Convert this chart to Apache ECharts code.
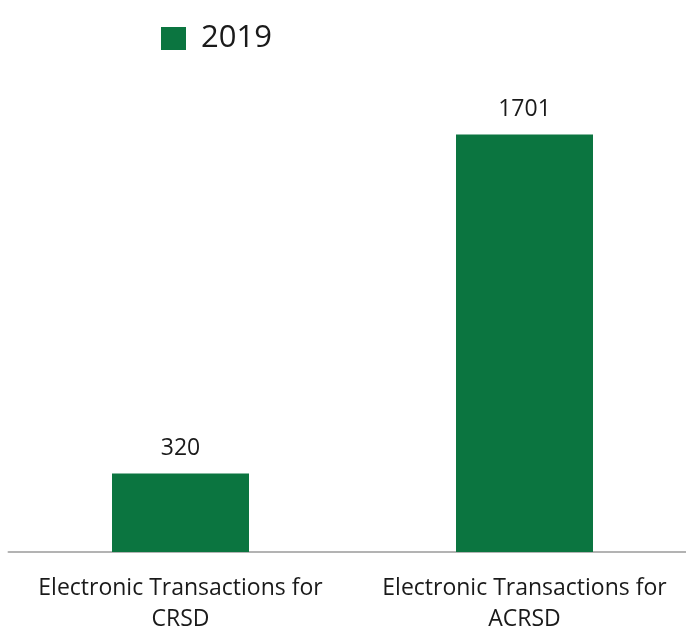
<!DOCTYPE html>
<html>
<head>
<meta charset="utf-8">
<script src="https://cdn.jsdelivr.net/npm/echarts@6/dist/echarts.min.js"></script>
<style>
html,body{margin:0;padding:0;background:#fff;overflow:hidden;}
#chart{width:686px;height:628px;}
</style>
</head>
<body>
<div id="chart"></div>
<script>
const categories = ["Electronic Transactions for CRSD", "Electronic Transactions for ACRSD"];
const seriesName = "2019";
const values = [320, 1701];

const chart = echarts.init(document.getElementById('chart'));
const FONT = 'Open Sans';
chart.setOption({
  animation: false,
  legend: {
    data: [seriesName],
    left: 161,
    top: 23,
    padding: 0,
    itemWidth: 25,
    itemHeight: 23,
    icon: 'rect',
    textStyle: { fontFamily: FONT, fontSize: 31, color: '#1a1a1a', padding: [0, 0, 0, 10] }
  },
  grid: { left: 8.5, top: 61, width: 688, height: 491, containLabel: false, outerBoundsMode: 'none' },
  xAxis: {
    type: 'category',
    data: categories,
    axisLine: { lineStyle: { color: '#b3b3b3', width: 2 } },
    axisTick: { show: false },
    axisLabel: {
      interval: 0,
      hideOverlap: false,
      fontFamily: FONT, fontSize: 23, color: '#1a1a1a', lineHeight: 31, margin: 21,
      formatter: v => v.replace(' for ', ' for\n')
    }
  },
  yAxis: { type: 'value', min: 0, max: 2000, show: false, splitLine: { show: false } },
  series: [{
    name: seriesName,
    type: 'bar',
    data: values,
    barWidth: 137,
    itemStyle: { color: '#0b7540' },
    label: { show: true, position: 'top', distance: 13, fontFamily: FONT, fontSize: 23, color: '#1a1a1a' }
  }]
});
</script>
</body>
</html>
